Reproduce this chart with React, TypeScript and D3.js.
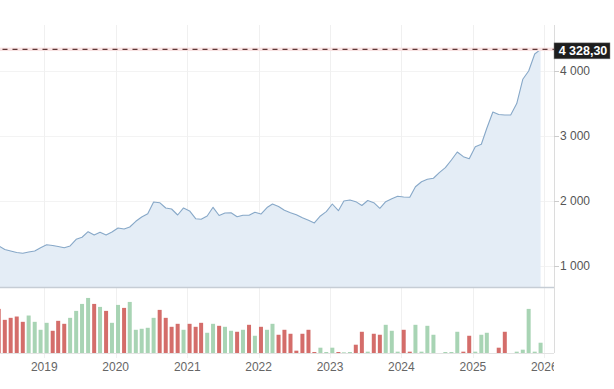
import React, { useEffect, useRef } from "react";
import * as d3 from "d3";

// monthly closes, May 2018 .. Dec 2025
const startYear = 2018;
const startMonth = 4; // May (0-based)

const closes: number[] = [
  1303, 1249, 1226, 1203, 1191, 1211, 1226, 1277,
  1323, 1311, 1295, 1277, 1303, 1406, 1437, 1523, 1472, 1514, 1472, 1518,
  1580, 1565, 1595, 1683, 1749, 1800, 1980, 1969, 1888, 1872, 1780, 1888,
  1842, 1723, 1714, 1765, 1898, 1772, 1811, 1815, 1754, 1777, 1775, 1822,
  1795, 1895, 1949, 1911, 1852, 1815, 1785, 1738, 1698, 1657, 1765, 1831,
  1949, 1846, 1995, 2011, 1985, 1926, 2003, 1969, 1883, 1985, 2031, 2068,
  2057, 2052, 2215, 2292, 2329, 2345, 2431, 2508, 2626, 2749, 2677, 2646,
  2831, 2868, 3114, 3365, 3326, 3318, 3318, 3495, 3868, 3995, 4257, 4328.3,
];

// monthly volumes (relative units)
const volumes: number[] = [
  133, 100, 106, 110, 94, 113, 94, 70,
  91, 67, 97, 88, 106, 127, 148, 166, 148, 139, 127, 91,
  145, 136, 154, 70, 73, 76, 106, 130, 106, 79, 88, 70,
  88, 79, 91, 61, 88, 82, 79, 67, 64, 70, 85, 52,
  79, 70, 88, 55, 70, 58, 7, 58, 70, 3, 16, 3,
  16, 3, 2, 3, 25, 64, 4, 58, 55, 85, 67, 4,
  70, 4, 85, 4, 82, 55, 0, 3, 3, 64, 4, 52,
  4, 55, 61, 0, 16, 64, 0, 4, 10, 133, 4, 31,
];

// close of the month before the series starts (colours the first volume bar)
const priorClose = 1340;

const priceTicks = [1000, 2000, 3000, 4000];
const yearTicks = [2019, 2020, 2021, 2022, 2023, 2024, 2025, 2026];

const W = 614, H = 389;

const locale = d3.formatLocale({
  decimal: ",",
  thousands: "\u00a0",
  grouping: [3],
  currency: ["", ""],
});

/** Price area + volume bars, drawn by d3 into the svg ref */
export default function App() {
  const ref = useRef<SVGSVGElement>(null);

  useEffect(() => {
    const svg = d3.select(ref.current);
    svg.selectAll("*").remove();

    const left = 0, right = 554, top = 25;
    const priceBottom = 287, volBottom = 353;

    const data = closes.map((c, i) => ({
      date: new Date(Date.UTC(startYear, startMonth + i, 13)),
      close: c,
      volume: volumes[i],
      up: c >= (i === 0 ? priorClose : closes[i - 1]),
    }));

    const x = d3.scaleUtc()
      .domain([new Date(Date.UTC(2019, 0, 1)), new Date(Date.UTC(2026, 0, 1))])
      .range([44.3, 544.3]);
    const y = d3.scaleLinear().domain([672, 4703]).range([priceBottom, top]);
    const yVol = d3.scaleLinear().domain([0, 199]).range([volBottom, priceBottom]);

    const fmtTick = locale.format(",d");
    const fmtLast = locale.format(",.2f");

    const defs = svg.append("defs");
    defs.append("clipPath").attr("id", "plot-clip")
      .append("rect").attr("x", left).attr("y", top)
      .attr("width", right - left).attr("height", volBottom - top);
    defs.append("clipPath").attr("id", "label-clip")
      .append("rect").attr("x", 0).attr("y", 0)
      .attr("width", right).attr("height", H);

    // grid
    svg.append("g").selectAll("line").data(priceTicks).join("line")
      .attr("x1", left).attr("x2", right)
      .attr("y1", d => Math.round(y(d)) + 0.5).attr("y2", d => Math.round(y(d)) + 0.5)
      .attr("stroke", "#f3f3f3");
    svg.append("g").selectAll("line").data(yearTicks).join("line")
      .attr("x1", d => Math.round(x(new Date(Date.UTC(d, 0, 1)))) + 0.5)
      .attr("x2", d => Math.round(x(new Date(Date.UTC(d, 0, 1)))) + 0.5)
      .attr("y1", top).attr("y2", volBottom + 5)
      .attr("stroke", "#f0f0f0");

    const plot = svg.append("g").attr("clip-path", "url(#plot-clip)");

    // price area + line
    const area = d3.area<typeof data[0]>()
      .x(d => x(d.date))
      .y0(priceBottom)
      .y1(d => y(d.close));
    const line = d3.line<typeof data[0]>()
      .x(d => x(d.date))
      .y(d => y(d.close));

    plot.append("path").datum(data)
      .attr("fill", "#e4edf6")
      .attr("d", area);
    plot.append("path").datum(data)
      .attr("fill", "none")
      .attr("stroke", "#87a8c8")
      .attr("stroke-width", 1.1)
      .attr("stroke-linejoin", "round")
      .attr("d", line);

    // volume bars
    plot.append("g").selectAll("rect").data(data.filter(d => d.volume > 0)).join("rect")
      .attr("x", d => x(d.date) - 2)
      .attr("width", 4)
      .attr("y", d => yVol(d.volume))
      .attr("height", d => volBottom - yVol(d.volume))
      .attr("fill", d => (d.up ? "#a8d4b4" : "#d46d6a"));

    // panel borders
    svg.append("line")
      .attr("x1", left).attr("x2", right)
      .attr("y1", priceBottom + 0.5).attr("y2", priceBottom + 0.5)
      .attr("stroke", "#c6cdd5").attr("stroke-width", 1.5);
    svg.append("line")
      .attr("x1", left).attr("x2", right)
      .attr("y1", volBottom + 0.5).attr("y2", volBottom + 0.5)
      .attr("stroke", "#e3e3e3");
    svg.append("line")
      .attr("x1", right + 0.5).attr("x2", right + 0.5)
      .attr("y1", top).attr("y2", volBottom)
      .attr("stroke", "#dcdcdc");

    // right price axis
    const axis = svg.append("g");
    axis.selectAll("line").data(priceTicks).join("line")
      .attr("x1", right).attr("x2", right + 5)
      .attr("y1", d => Math.round(y(d)) + 0.5).attr("y2", d => Math.round(y(d)) + 0.5)
      .attr("stroke", "#cccccc");
    axis.selectAll("text").data(priceTicks).join("text")
      .attr("x", right + 6)
      .attr("y", d => y(d))
      .attr("dy", "0.35em")
      .attr("fill", "#555")
      .attr("font-size", 12)
      .text(d => fmtTick(d));

    // year labels (clipped at the plot edge)
    svg.append("g").attr("clip-path", "url(#label-clip)")
      .selectAll("text").data(yearTicks).join("text")
      .attr("x", d => x(new Date(Date.UTC(d, 0, 1))))
      .attr("y", 371)
      .attr("text-anchor", "middle")
      .attr("fill", "#666")
      .attr("font-size", 12)
      .text(d => d);

    // last price marker
    const last = closes[closes.length - 1];
    const ly = y(last);
    svg.append("rect")
      .attr("x", left).attr("width", right - left)
      .attr("y", ly - 1.7).attr("height", 3.4)
      .attr("fill", "#f8e2e2");
    svg.append("line")
      .attr("x1", left + 2.5).attr("x2", right)
      .attr("y1", ly).attr("y2", ly)
      .attr("stroke", "#5e3636").attr("stroke-width", 1.3)
      .attr("stroke-dasharray", "5,5");
    svg.append("rect")
      .attr("x", right).attr("y", ly - 6.5)
      .attr("width", 56).attr("height", 16)
      .attr("fill", "#1e1e1e")
      .attr("stroke", "#888")
      .attr("stroke-width", 0.5);
    svg.append("text")
      .attr("x", right + 29).attr("y", ly + 1.5)
      .attr("dy", "0.35em")
      .attr("text-anchor", "middle")
      .attr("fill", "#fff")
      .attr("font-size", 12.5)
      .attr("font-weight", "bold")
      .text(fmtLast(last));
  }, []);

  return (
    <svg
      ref={ref}
      width={W}
      height={H}
      style={{ position: "absolute", left: 0, top: 0, background: "#fff" }}
      fontFamily="'Liberation Sans', Arial, sans-serif"
    />
  );
}
